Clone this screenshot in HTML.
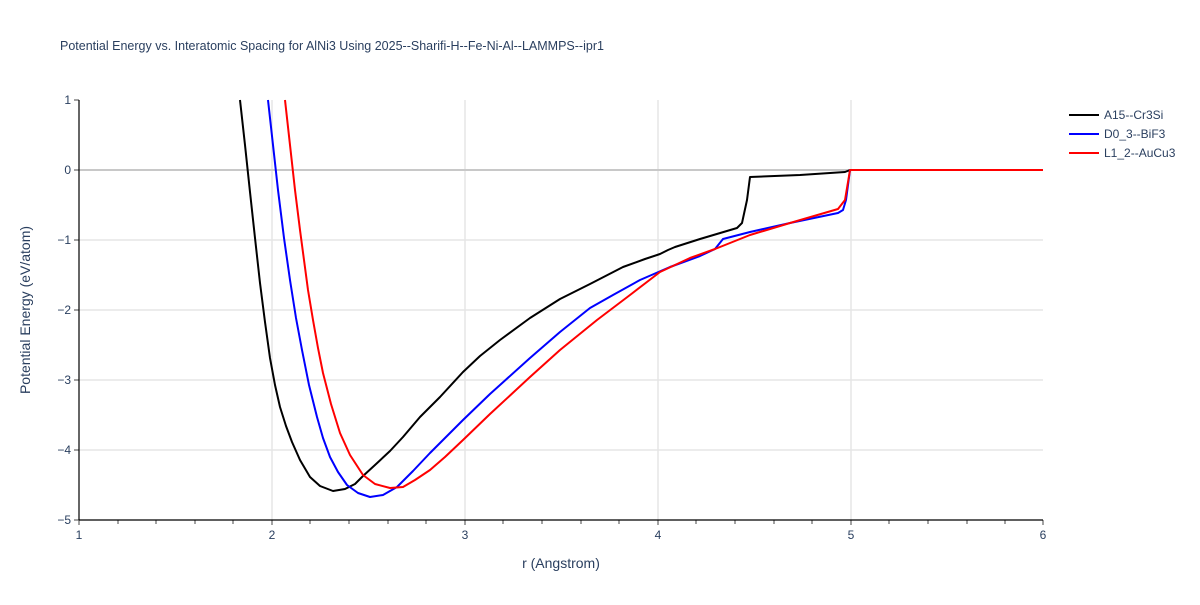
<!DOCTYPE html>
<html><head><meta charset="utf-8"><style>body{margin:0;background:#fff}svg text{font-family:"Liberation Sans",sans-serif}</style></head><body>
<svg width="1200" height="600" viewBox="0 0 1200 600">
<rect width="1200" height="600" fill="#fff"/>
<text x="60" y="50" font-size="12.5" fill="#2a3f5f">Potential Energy vs. Interatomic Spacing for AlNi3 Using 2025--Sharifi-H--Fe-Ni-Al--LAMMPS--ipr1</text>
<g stroke="#e5e5e5" stroke-width="1.5">
<line x1="272" y1="100" x2="272" y2="520"/><line x1="465" y1="100" x2="465" y2="520"/><line x1="658" y1="100" x2="658" y2="520"/><line x1="851" y1="100" x2="851" y2="520"/>
<line x1="79" y1="240" x2="1043" y2="240"/><line x1="79" y1="310" x2="1043" y2="310"/><line x1="79" y1="380" x2="1043" y2="380"/><line x1="79" y1="450" x2="1043" y2="450"/>
</g>
<line x1="79" y1="170" x2="1043" y2="170" stroke="#c8c8c8" stroke-width="2"/>
<g stroke="#444" stroke-width="1">
<line x1="79" y1="520" x2="79" y2="525"/><line x1="118" y1="520" x2="118" y2="524"/><line x1="156" y1="520" x2="156" y2="524"/><line x1="195" y1="520" x2="195" y2="524"/><line x1="233" y1="520" x2="233" y2="524"/><line x1="272" y1="520" x2="272" y2="525"/><line x1="310" y1="520" x2="310" y2="524"/><line x1="349" y1="520" x2="349" y2="524"/><line x1="388" y1="520" x2="388" y2="524"/><line x1="426" y1="520" x2="426" y2="524"/><line x1="465" y1="520" x2="465" y2="525"/><line x1="503" y1="520" x2="503" y2="524"/><line x1="542" y1="520" x2="542" y2="524"/><line x1="581" y1="520" x2="581" y2="524"/><line x1="619" y1="520" x2="619" y2="524"/><line x1="658" y1="520" x2="658" y2="525"/><line x1="696" y1="520" x2="696" y2="524"/><line x1="735" y1="520" x2="735" y2="524"/><line x1="774" y1="520" x2="774" y2="524"/><line x1="812" y1="520" x2="812" y2="524"/><line x1="851" y1="520" x2="851" y2="525"/><line x1="889" y1="520" x2="889" y2="524"/><line x1="928" y1="520" x2="928" y2="524"/><line x1="967" y1="520" x2="967" y2="524"/><line x1="1005" y1="520" x2="1005" y2="524"/><line x1="1043" y1="520" x2="1043" y2="525"/>
<line x1="74" y1="100" x2="79" y2="100"/><line x1="74" y1="170" x2="79" y2="170"/><line x1="74" y1="240" x2="79" y2="240"/><line x1="74" y1="310" x2="79" y2="310"/><line x1="74" y1="380" x2="79" y2="380"/><line x1="74" y1="450" x2="79" y2="450"/><line x1="74" y1="520" x2="79" y2="520"/>
</g>
<line x1="79" y1="100" x2="79" y2="520" stroke="#000" stroke-width="1.2"/>
<line x1="79" y1="520" x2="1043" y2="520" stroke="#000" stroke-width="1.2"/>
<g font-size="12" fill="#2a3f5f" text-anchor="middle">
<text x="79" y="539">1</text><text x="272" y="539">2</text><text x="465" y="539">3</text><text x="658" y="539">4</text><text x="851" y="539">5</text><text x="1043" y="539">6</text>
</g>
<g font-size="12" fill="#2a3f5f" text-anchor="end">
<text x="71" y="104">1</text><text x="71" y="174">0</text><text x="71" y="244">−1</text><text x="71" y="314">−2</text><text x="71" y="384">−3</text><text x="71" y="454">−4</text><text x="71" y="524">−5</text>
</g>
<text x="561" y="568" font-size="14" fill="#2a3f5f" text-anchor="middle">r (Angstrom)</text>
<text transform="translate(30,310) rotate(-90)" font-size="14" fill="#2a3f5f" text-anchor="middle">Potential Energy (eV/atom)</text>
<g fill="none" stroke-width="2" stroke-linejoin="round">
<polyline stroke="#000" points="240,100 245,145 250,192 255,238 260,283 265,322 270,358 275,385 280,407 286,426 292,442 300,460 310,477 320,486 333,491 345,489 355,484 363,476 375,465 390,451 403,437 420,417 440,397 463,372 480,356 500,340 530,318 560,299 590,284 623,267 645,259 660,254 668,250 675,247 700,239 737,228 742,223 747,200 750,177 800,175 845,172 850,170 1043,170"/>
<polyline stroke="#00f" points="268,100 273,145 278,190 284,238 290,280 296,318 302,350 309,385 317,417 323,438 330,457 338,472 347,485 358,493 370,497 383,495 397,487 413,471 430,453 446,437 463,420 490,394 530,358 560,332 590,308 613,295 640,280 670,267 700,256 715,249 723,239 750,232 790,223 838,213 843,210 846,200 850,170 1043,170"/>
<polyline stroke="#f00" points="285,100 290,145 295,190 300,230 304,260 308,290 313,320 318,348 323,373 331,404 340,433 350,455 363,475 375,484 390,488 403,487 415,480 430,470 445,457 463,440 490,414 530,377 560,350 597,320 630,295 660,272 690,258 715,249 750,235 790,223 838,209 845,200 850,170 1043,170"/>
</g>
<g font-size="12" fill="#2a3f5f">
<line x1="1069" y1="115" x2="1099" y2="115" stroke="#000" stroke-width="2"/><text x="1104" y="119">A15--Cr3Si</text>
<line x1="1069" y1="134" x2="1099" y2="134" stroke="#00f" stroke-width="2"/><text x="1104" y="138">D0_3--BiF3</text>
<line x1="1069" y1="153" x2="1099" y2="153" stroke="#f00" stroke-width="2"/><text x="1104" y="157">L1_2--AuCu3</text>
</g>
</svg>
</body></html>
